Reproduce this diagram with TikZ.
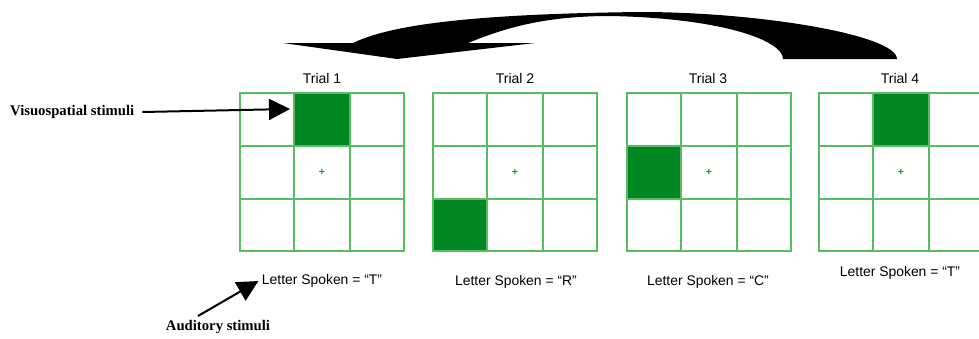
\documentclass[tikz,border=0pt]{standalone}
\usepackage{fontspec}
\setmainfont{Liberation Sans}
\newfontfamily\stimfont{Liberation Serif}
\usetikzlibrary{arrows.meta}
\definecolor{gridgreen}{RGB}{88,188,98}
\definecolor{cellgreen}{RGB}{0,135,35}
\definecolor{markgreen}{RGB}{30,150,50}

\begin{document}
\begin{tikzpicture}[x=1pt,y=-1pt,
  gridline/.style={draw=gridgreen,line width=1.8pt},
  hitcell/.style={fill=cellgreen},
  trial/.style={font=\fontsize{14}{16}\selectfont},
  spoken/.style={font=\fontsize{13.9}{16}\selectfont},
  centremark/.style={text=markgreen,inner sep=0pt,font=\bfseries\fontsize{10.5}{10.5}\selectfont},
  stim/.style={font=\stimfont\bfseries\fontsize{14.7}{17}\selectfont},
  pointer/.style={-{Triangle[length=21pt,width=21pt]},line width=2pt}]
\useasboundingbox (0,0) rectangle (979,338);
\clip (0,0) rectangle (979,338);

\fill (283,43) -- (353,43) .. controls (390,25) and (470,14) .. (640,12)
  .. controls (760,12) and (897,35) .. (897,59) -- (783,59)
  .. controls (783,40) and (720,18) .. (610,16)
  .. controls (540,16) and (500,30) .. (468,43) -- (535,43) -- (397,59) -- cycle;

\fill[hitcell] (294,93) rectangle (350,146);
\fill[hitcell] (433,199) rectangle (487,251);
\fill[hitcell] (627,146) rectangle (681,199);
\fill[hitcell] (873,93) rectangle (929,146);

\draw[gridline] (240,93) rectangle (404,251) (294,93) -- (294,251) (350,93) -- (350,251) (240,146) -- (404,146) (240,199) -- (404,199);
\draw[gridline] (433,93) rectangle (597,251) (487,93) -- (487,251) (543,93) -- (543,251) (433,146) -- (597,146) (433,199) -- (597,199);
\draw[gridline] (627,93) rectangle (791,251) (681,93) -- (681,251) (737,93) -- (737,251) (627,146) -- (791,146) (627,199) -- (791,199);
\draw[gridline] (819,93) rectangle (983,251) (873,93) -- (873,251) (929,93) -- (929,251) (819,146) -- (983,146) (819,199) -- (983,199);

\node[centremark] (M1) at (322,172) {+};
\node[centremark] (M2) at (515,172) {+};
\node[centremark] (M3) at (709,172) {+};
\node[centremark] (M4) at (901,172) {+};

\node[trial] (T1) at (322,78) {Trial 1};
\node[trial] (T2) at (515,78) {Trial 2};
\node[trial] (T3) at (708,78) {Trial 3};
\node[trial] (T4) at (900,78) {Trial 4};

\node[spoken] (S1) at (322,281) {Letter Spoken = “T”};
\node[spoken] (S2) at (516,282) {Letter Spoken = “R”};
\node[spoken] (S3) at (708,282) {Letter Spoken = “C”};
\node[spoken] (S4) at (900,273) {Letter Spoken = “T”};

\node[stim,anchor=west,inner sep=0pt] (V) at (10,112) {Visuospatial stimuli};
\node[stim,inner sep=0pt] (Au) at (218,327) {Auditory stimuli};
\coordinate (Vtip) at (290,109);
\coordinate (Aufoot) at (198,316);

\path[pointer] ([xshift=8pt]V.east) edge (Vtip);
\path[pointer] (Aufoot) edge (S1.west);
\end{tikzpicture}
\end{document}
